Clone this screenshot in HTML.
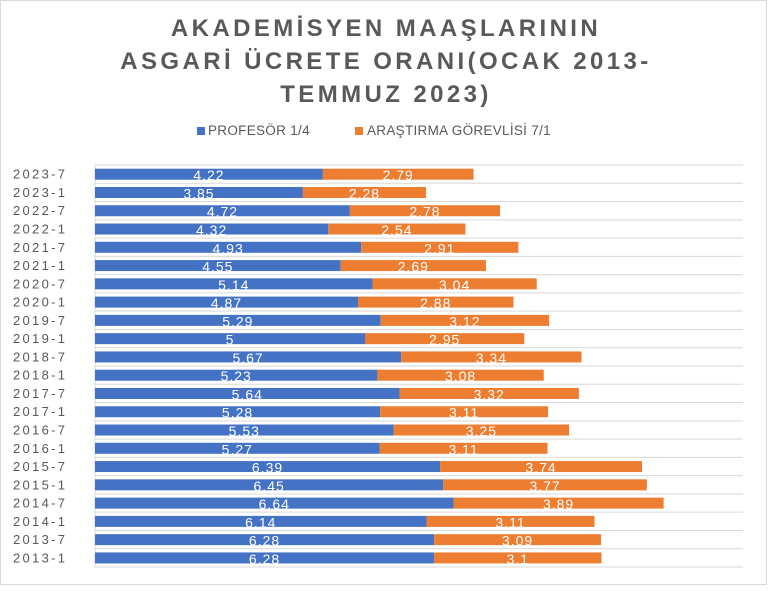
<!DOCTYPE html>
<html><head><meta charset="utf-8"><style>
body{margin:0;background:#fff;}
</style></head><body>
<svg width="768" height="586" xmlns="http://www.w3.org/2000/svg" font-family="Liberation Sans, DejaVu Sans, sans-serif">
<rect x="0.5" y="0.5" width="766" height="584" fill="#fff" stroke="#d9d9d9"/>
<g font-weight="bold" font-size="24" fill="#595959" text-anchor="middle" letter-spacing="3.4">
<text x="386" y="36">AKADEMİSYEN MAAŞLARININ</text>
<text x="386" y="69">ASGARİ ÜCRETE ORANI(OCAK 2013-</text>
<text x="386" y="102">TEMMUZ 2023)</text>
</g>
<g font-size="13.5" fill="#595959" letter-spacing="0.3">
<rect x="197" y="127" width="8" height="8" fill="#4472c4"/><text x="208" y="135">PROFESÖR 1/4</text>
<rect x="355" y="127" width="8" height="8" fill="#ed7d31"/><text x="367" y="135">ARAŞTIRMA GÖREVLİSİ 7/1</text>
</g>
<g id="c"></g>
</svg>
<script>
(function(){
var d=[["2023-7",4.22,2.79],["2023-1",3.85,2.28],["2022-7",4.72,2.78],["2022-1",4.32,2.54],["2021-7",4.93,2.91],["2021-1",4.55,2.69],["2020-7",5.14,3.04],["2020-1",4.87,2.88],["2019-7",5.29,3.12],["2019-1",5,2.95],["2018-7",5.67,3.34],["2018-1",5.23,3.08],["2017-7",5.64,3.32],["2017-1",5.28,3.11],["2016-7",5.53,3.25],["2016-1",5.27,3.11],["2015-7",6.39,3.74],["2015-1",6.45,3.77],["2014-7",6.64,3.89],["2014-1",6.14,3.11],["2013-7",6.28,3.09],["2013-1",6.28,3.1]];
var s="",T=165,h=(567-165)/22,k=54,x0=95;
for(var i=0;i<=22;i++){var y=T+i*h;s+='<line x1="95" x2="743" y1="'+y+'" y2="'+y+'" stroke="#d9d9d9" stroke-width="1"/>';}
s+='<line x1="95" x2="95" y1="165" y2="567" stroke="#d9d9d9"/>';
d.forEach(function(r,i){var y=T+i*h+3.7,bh=11;var w1=r[1]*k,w2=r[2]*k;
s+='<rect x="'+x0+'" y="'+y+'" width="'+w1+'" height="'+bh+'" fill="#4472c4"/>';
s+='<rect x="'+(x0+w1)+'" y="'+y+'" width="'+w2+'" height="'+bh+'" fill="#ed7d31"/>';
var ty=y+bh+0.5;
s+='<text x="'+(x0+w1/2)+'" y="'+ty+'" font-size="14" fill="#fff" text-anchor="middle" letter-spacing="1">'+r[1]+'</text>';
s+='<text x="'+(x0+w1+w2/2)+'" y="'+ty+'" font-size="14" fill="#fff" text-anchor="middle" letter-spacing="1">'+r[2]+'</text>';
s+='<text x="13" y="'+(y+10)+'" font-size="13" fill="#595959" letter-spacing="2.3">'+r[0]+'</text>';
});
document.getElementById("c").innerHTML=s;
})();
</script>
</body></html>
